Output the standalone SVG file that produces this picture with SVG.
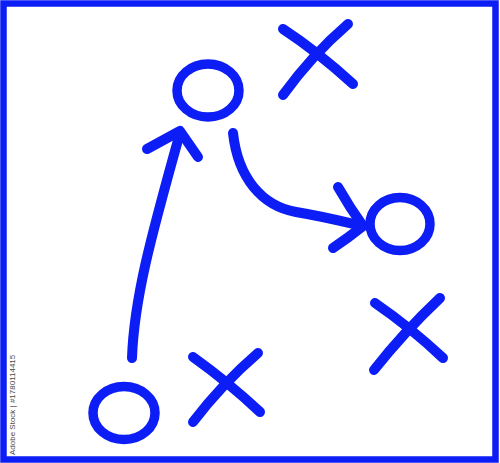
<svg xmlns="http://www.w3.org/2000/svg" width="500" height="463" viewBox="0 0 500 463">
  <style>
    .ink { fill: none; stroke: #0c1ef5; stroke-width: 10; stroke-linecap: round; stroke-linejoin: round; }
    .ring { fill: none; stroke: #0c1ef5; stroke-width: 9.5; }
    .frame { fill: #ffffff; stroke: #0c1ef5; stroke-width: 6.5; }
    .credit { font-family: "Liberation Sans", Arial, sans-serif; font-size: 8px; fill: #4a4a4a; }
  </style>
  <rect class="frame" x="3.5" y="3.5" width="492" height="456"/>

  <g id="player-o-top"><ellipse class="ring" cx="208" cy="90.5" rx="31" ry="26.5"/></g>
  <g id="player-o-right"><ellipse class="ring" cx="400" cy="224" rx="30" ry="26.5"/></g>
  <g id="player-o-bottom"><ellipse class="ring" cx="124" cy="413" rx="31" ry="26.5"/></g>

  <g id="player-x-top">
    <path class="ink" d="M283,29 Q318,52 353,84"/>
    <path class="ink" d="M348,24 Q312,55 283,95"/>
  </g>
  <g id="player-x-middle">
    <path class="ink" d="M193,357 Q228,382 260,412"/>
    <path class="ink" d="M258,353 Q222,384 193,422"/>
  </g>
  <g id="player-x-right">
    <path class="ink" d="M375,303 Q410,327 443,358"/>
    <path class="ink" d="M440,298 Q404,332 374,370"/>
  </g>

  <g id="connectors">
    <path class="ink" d="M132,358 C134,300 150,240 180,133"/>
    <path class="ink" d="M147,149 L180,131 L198,157"/>
    <path class="ink" d="M233,133 C238,178 262,206 296,212 C326,217 345,222 362,226"/>
    <path class="ink" d="M338,187 Q350,208 363,226 Q348,238 333,248"/>
  </g>

  <text class="credit" transform="translate(15,455) rotate(-90)">Adobe Stock | #1780114415</text>
</svg>
